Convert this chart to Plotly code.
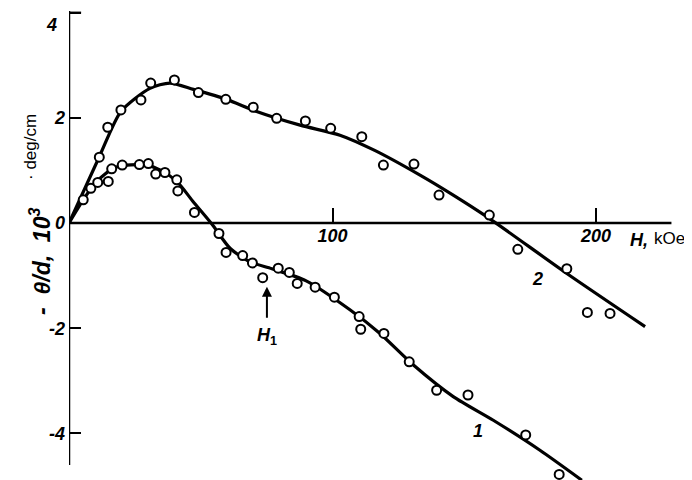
import plotly.graph_objects as go

# ---- data ----
# curve 1: measured points
h1_pts = [5.4, 8.3, 10.9, 14.9, 16.2, 20.2, 26.7, 30.1, 32.9, 36.4, 40.9, 41.3, 47.6,
          56.9, 59.6, 65.9, 69.6, 73.5, 79.4, 83.6, 86.6, 93.4, 100.7, 110.1, 110.7,
          119.5, 129.1, 139.5, 151.4, 173.3, 186.0]
r1_pts = [0.44, 0.66, 0.77, 0.79, 1.03, 1.10, 1.11, 1.13, 0.93, 0.96, 0.82, 0.61, 0.20,
          -0.20, -0.56, -0.62, -0.76, -1.04, -0.86, -0.94, -1.15, -1.22, -1.41, -1.78, -2.02,
          -2.10, -2.64, -3.18, -3.27, -4.03, -4.78]
# curve 1: drawn smooth line
h1_line = [0, 5.4, 10.5, 16.8, 21.9, 29.5, 34.5, 40.9, 47.2, 54.2, 61.1, 68.7, 77.0,
           90.0, 106.6, 118.0, 130.7, 145.8, 161.0, 178.7, 194.6]
r1_line = [0, 0.44, 0.79, 1.04, 1.10, 1.10, 1.01, 0.79, 0.40, -0.02, -0.48, -0.74, -0.87,
           -1.10, -1.65, -2.10, -2.70, -3.30, -3.75, -4.32, -4.89]

# curve 2: measured points
h2_pts = [11.5, 14.7, 19.7, 27.3, 31.0, 40.0, 49.1, 59.5, 69.9, 78.8, 89.7, 99.3, 111.1,
          119.3, 130.9, 140.4, 159.5, 170.3, 188.9, 196.7, 205.3]
r2_pts = [1.25, 1.82, 2.15, 2.34, 2.66, 2.72, 2.48, 2.35, 2.20, 1.99, 1.94, 1.80, 1.64,
          1.10, 1.12, 0.53, 0.15, -0.50, -0.87, -1.70, -1.72]
# curve 2: drawn smooth line
h2_line = [0, 11.5, 19.7, 30.7, 38.3, 47.2, 59.8, 71.2, 87.7, 102.8, 116.0, 133.2,
           145.8, 158.5, 188.9, 218.6]
r2_line = [0, 1.26, 2.12, 2.56, 2.66, 2.54, 2.35, 2.12, 1.86, 1.67, 1.38, 0.91,
           0.53, 0.12, -0.96, -1.97]

x_ticks = [100, 200]
x_ticktext = ["100", "200"]
y_ticks = [-4, -2, 0, 2, 4]
y_ticktext = ["-4", "-2", "0", "2", ""]   # the "4" label sits lower, drawn separately
top_label = "4"

X_RANGE = [0, 236.4]
Y_RANGE = [-4.886, 4.087]

FAM = "Liberation Sans, Arial, sans-serif"
TICKFONT = dict(family=FAM, size=18, color="black", weight="bold", style="italic")

fig = go.Figure()

for hx, ry in [(h1_line, r1_line), (h2_line, r2_line)]:
    fig.add_trace(go.Scatter(x=hx, y=ry, mode="lines",
                             line=dict(color="black", width=3.2, shape="spline", smoothing=0.7),
                             hoverinfo="skip", showlegend=False))
for hx, ry in [(h1_pts, r1_pts), (h2_pts, r2_pts)]:
    fig.add_trace(go.Scatter(x=hx, y=ry, mode="markers", cliponaxis=False,
                             marker=dict(symbol="circle", size=9, color="white",
                                         line=dict(color="black", width=2)),
                             showlegend=False))

pos0 = (0 - Y_RANGE[0]) / (Y_RANGE[1] - Y_RANGE[0])

fig.update_layout(
    width=684, height=472,
    margin=dict(l=61, r=0, t=0, b=0),
    paper_bgcolor="white", plot_bgcolor="white",
    xaxis=dict(range=X_RANGE, anchor="free", position=pos0, showline=False, automargin=False,
               showgrid=False, zeroline=False, tickvals=x_ticks, ticktext=x_ticktext,
               ticks="inside", ticklen=15, tickwidth=2, tickcolor="black",
               tickfont=TICKFONT),
    yaxis=dict(range=Y_RANGE, showline=False, showgrid=False, zeroline=False, automargin=False,
               tickvals=y_ticks, ticktext=y_ticktext, ticks="inside", ticklen=12,
               tickwidth=2, tickcolor="black", tickfont=TICKFONT, ticklabelstandoff=3,
               ticklabeloverflow="allow"),
)

# axis lines and top tick
fig.add_shape(type="line", x0=0, x1=228.6, y0=0, y1=0, xref="x", yref="y",
              line=dict(color="black", width=2.5))
fig.add_shape(type="line", x0=0, x1=0, y0=-4.60, y1=4.03, xref="x", yref="y",
              line=dict(color="black", width=2.5))
fig.add_shape(type="line", x0=0, x1=4.6, y0=4.0, y1=4.0, xref="x", yref="y",
              line=dict(color="black", width=2))
fig.add_annotation(x=(59 - 69) / 623, y=3.76, xref="paper", yref="y", xanchor="right",
                   yanchor="middle", showarrow=False, text=top_label, font=TICKFONT)

# axis titles
fig.add_annotation(x=212, y=-0.32, xref="x", yref="y", xanchor="left", yanchor="middle",
                   showarrow=False, text="<b><i>H,</i></b>",
                   font=dict(family=FAM, size=18, color="black"))
fig.add_annotation(x=(687 - 69) / 623, y=-0.30, xref="paper", yref="y", xanchor="right",
                   yanchor="middle", showarrow=False, text="kOe",
                   font=dict(family=FAM, size=17, color="black"))
fig.add_annotation(x=(40 - 69) / 623, y=1 - (262 - 8) / 472, xref="paper", yref="paper",
                   textangle=-90, xanchor="center", yanchor="middle", showarrow=False,
                   text="<b><i>-  θ/d,  10<sup>3</sup></i></b>",
                   font=dict(family=FAM, size=23, color="black"))
fig.add_annotation(x=(30 - 69) / 623, y=1 - (147 - 8) / 472, xref="paper", yref="paper",
                   textangle=-90, xanchor="center", yanchor="middle", showarrow=False,
                   text="· deg/cm",
                   font=dict(family=FAM, size=17, color="black"))

# curve labels
fig.add_annotation(x=155.1, y=-3.95, xref="x", yref="y", showarrow=False,
                   text="<b><i>1</i></b>", font=dict(family=FAM, size=18, color="black"))
fig.add_annotation(x=177.6, y=-1.06, xref="x", yref="y", showarrow=False,
                   text="<b><i>2</i></b>", font=dict(family=FAM, size=18, color="black"))

# H1 arrow and label
fig.add_annotation(x=75.1, y=-1.21, ax=75.1, ay=-1.83, xref="x", yref="y", axref="x", ayref="y",
                   text="", showarrow=True, arrowhead=2, arrowsize=1, arrowwidth=2, arrowcolor="black")
fig.add_annotation(x=75.1, y=-2.15, xref="x", yref="y", showarrow=False,
                   text="<b><i>H</i><sub>1</sub></b>",
                   font=dict(family=FAM, size=18, color="black"))

fig.write_html("out.html")
